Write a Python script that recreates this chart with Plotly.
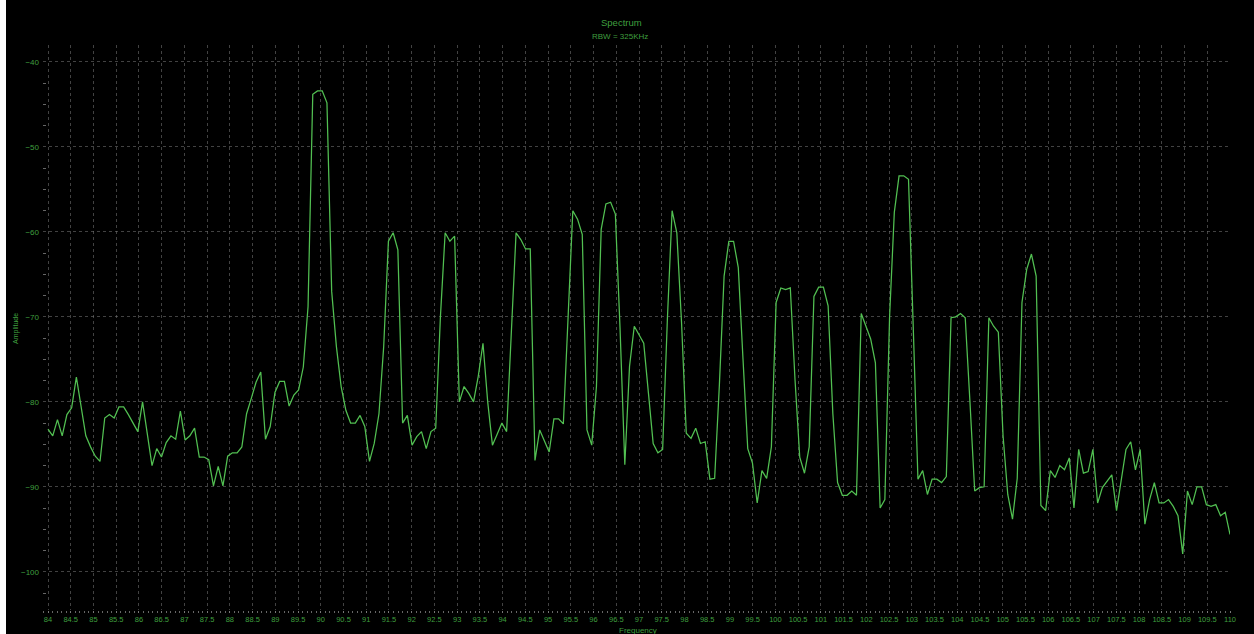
import numpy as np
import plotly.graph_objects as go

# Sweep settings and trace amplitudes (dBm), 251 points from 84 to 110 MHz
f_start_mhz = 84.0
f_stop_mhz = 110.0
amplitude_dbm = [
    -83.2, -84.0, -82.1, -84.0, -81.5, -80.7, -77.1, -80.5, -84.0, -85.3,
    -86.4, -87.0, -81.9, -81.5, -81.9, -80.6, -80.6, -81.5, -82.5, -83.5,
    -80.0, -83.8, -87.5, -85.5, -86.5, -84.8, -84.0, -84.4, -81.1, -84.5,
    -84.0, -83.1, -86.5, -86.5, -86.8, -89.9, -87.6, -89.9, -86.4, -86.0,
    -86.0, -85.3, -81.4, -79.6, -77.7, -76.5, -84.4, -82.9, -78.9, -77.6,
    -77.6, -80.5, -79.2, -78.6, -75.9, -68.8, -43.8, -43.4, -43.4, -44.8,
    -67.0, -73.5, -78.2, -81.0, -82.5, -82.5, -81.6, -82.9, -87.0, -84.9,
    -81.4, -73.5, -61.1, -60.1, -62.1, -82.5, -81.6, -85.1, -84.1, -83.5,
    -85.5, -83.5, -83.1, -70.0, -60.1, -61.1, -60.5, -80.0, -78.2, -79.0,
    -80.0, -77.0, -73.1, -80.0, -85.1, -83.8, -82.5, -83.5, -72.0, -60.1,
    -60.9, -62.0, -62.0, -86.9, -83.3, -84.5, -85.9, -82.0, -82.0, -82.6,
    -69.5, -57.5, -58.5, -60.3, -83.3, -85.1, -78.2, -59.7, -56.7, -56.5,
    -57.9, -71.5, -87.4, -75.8, -71.1, -72.1, -73.1, -79.0, -84.9, -86.0,
    -85.6, -70.3, -57.5, -60.1, -70.7, -83.7, -84.3, -83.1, -84.9, -84.7,
    -89.1, -89.0, -78.0, -65.2, -61.1, -61.1, -64.2, -75.0, -85.5, -87.2,
    -91.9, -88.1, -89.0, -85.3, -68.3, -66.6, -66.8, -66.6, -77.4, -86.5,
    -88.4, -85.3, -67.6, -66.5, -66.5, -68.7, -81.4, -89.5, -91.0, -91.0,
    -90.5, -91.0, -69.6, -71.1, -72.6, -75.4, -92.5, -91.5, -70.0, -57.7,
    -53.4, -53.4, -53.8, -71.1, -89.1, -88.1, -90.9, -89.1, -89.1, -89.5,
    -88.8, -70.1, -70.0, -69.6, -70.1, -80.0, -90.5, -90.1, -90.0, -70.1,
    -71.1, -71.8, -84.0, -90.9, -93.8, -89.0, -68.3, -64.4, -62.6, -65.2,
    -92.2, -92.8, -88.1, -88.9, -87.5, -88.0, -86.6, -92.5, -85.6, -88.4,
    -88.2, -85.6, -91.9, -90.1, -89.3, -88.6, -92.8, -89.3, -85.6, -84.7,
    -88.0, -85.6, -94.4, -91.5, -89.5, -91.9, -91.9, -91.5, -92.3, -93.4,
    -97.9, -90.5, -92.1, -90.0, -90.0, -92.1, -92.3, -92.1, -93.4, -93.0, -95.6,
]
frequency_mhz = np.linspace(f_start_mhz, f_stop_mhz, len(amplitude_dbm))

title_text = "Spectrum"
subtitle_text = "RBW = 325KHz"
x_title = "Frequency"
y_title = "Amplitude"

GREEN_TEXT = "#3f9f3f"
TRACE = "#52c052"
GRID = "rgba(120,120,120,0.55)"
FONT = "Liberation Sans, Arial, sans-serif"

# plot-area geometry in pixels
W, H = 1254, 634
ML, MR, MT, MB = 43, 24, 45, 24
PW, PH = W - ML - MR, H - MT - MB


def px_to_paper(px, py):
    return (px - ML) / PW, (H - MB - py) / PH


fig = go.Figure(
    go.Scatter(
        x=frequency_mhz,
        y=amplitude_dbm,
        mode="lines",
        line=dict(color=TRACE, width=1.25),
        hoverinfo="x+y",
    )
)

fig.update_xaxes(
    range=[83.89, 110.0],
    tick0=84, dtick=0.5,
    automargin=False,
    showgrid=True, gridcolor=GRID, gridwidth=1, griddash="dot",
    zeroline=False, showline=False,
    ticks="outside", ticklen=2, tickcolor="#777777", tickwidth=1,
    minor=dict(dtick=0.1, ticks="outside", ticklen=2, tickcolor="#666666", showgrid=False),
    tickfont=dict(family=FONT, size=7.5, color=GREEN_TEXT),
)
fig.update_yaxes(
    range=[-104.5, -38.0],
    tick0=-100, dtick=10,
    automargin=False,
    showgrid=True, gridcolor=GRID, gridwidth=1, griddash="dot",
    zeroline=False, showline=False,
    ticks="", ticklabelstandoff=3,
    minor=dict(dtick=2.5, ticks="inside", ticklen=3, tickcolor="#666666", showgrid=False),
    tickfont=dict(family=FONT, size=8, color=GREEN_TEXT),
)


def label(text, px, py, size, angle=0):
    x, y = px_to_paper(px, py)
    return dict(text=text, x=x, y=y, xref="paper", yref="paper",
                xanchor="center", yanchor="middle", textangle=angle,
                showarrow=False, font=dict(family=FONT, size=size, color=GREEN_TEXT))


lx0, _ = px_to_paper(0, 0)
lx1, _ = px_to_paper(6, 0)
_, top = px_to_paper(0, 0)
_, bottom = px_to_paper(0, H)

fig.update_layout(
    width=W, height=H,
    margin=dict(l=ML, r=MR, t=MT, b=MB),
    paper_bgcolor="black",
    plot_bgcolor="black",
    showlegend=False,
    annotations=[
        label(title_text, 621, 22, 9.5),
        label(subtitle_text, 620, 37, 8),
        label(x_title, 638, 630.5, 8),
        label(y_title, 16, 329, 7, angle=-90),
    ],
    shapes=[
        # white strip along the left edge of the window
        dict(type="rect", xref="paper", yref="paper",
             x0=lx0, x1=lx1, y0=bottom, y1=top,
             fillcolor="white", line=dict(width=0), layer="above"),
    ],
)

fig.write_html("out.html")
